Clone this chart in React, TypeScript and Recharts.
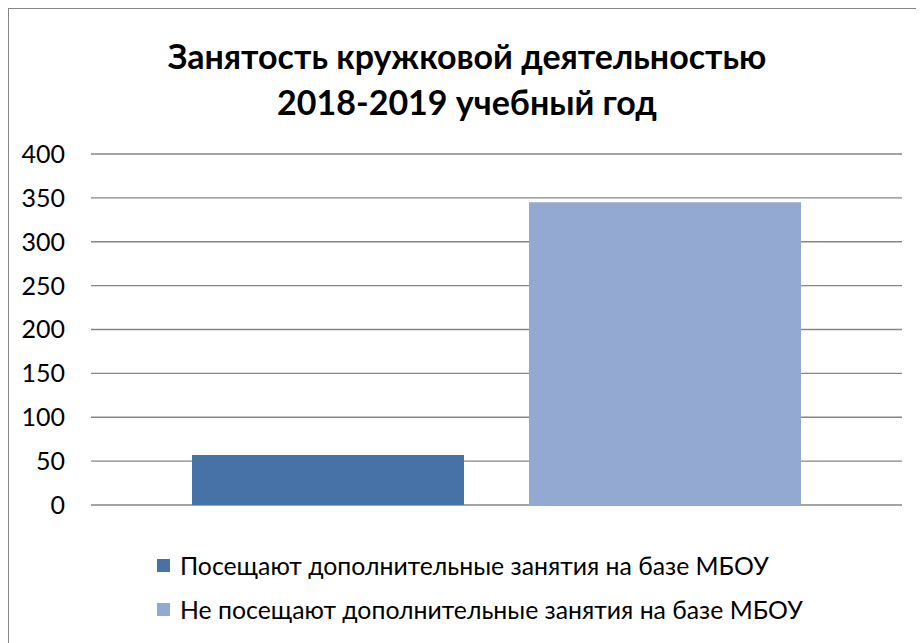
import { Bar, BarChart, CartesianGrid, XAxis, YAxis } from "recharts";

const categories = ["2018-2019"];
const seriesNames = [
  "Посещают дополнительные занятия на базе МБОУ",
  "Не посещают дополнительные занятия на базе МБОУ",
];
const seriesValues = [57, 345];
const seriesColors = ["#4672A8", "#94A9D1"];
const yTicks = [0, 50, 100, 150, 200, 250, 300, 350, 400];
const titleLines = ["Занятость кружковой деятельностью", "2018-2019 учебный год"];

const data = categories.map((c) => ({
  name: c,
  s0: seriesValues[0],
  s1: seriesValues[1],
}));

const font = "Lato, 'Open Sans', sans-serif";

export default function App() {
  return (
    <div
      style={{
        position: "relative",
        width: 915,
        height: 634,
        borderTop: "1px solid #868686",
        borderLeft: "1px solid #868686",
        fontFamily: font,
        background: "#fff",
        overflow: "hidden",
      }}
    >
      <div
        style={{
          position: "absolute",
          left: 0,
          top: 24,
          width: 916,
          textAlign: "center",
          fontWeight: 700,
          fontSize: 34,
          lineHeight: "46px",
          color: "#000",
        }}
      >
        {titleLines.map((t) => (
          <div key={t}>{t}</div>
        ))}
      </div>
      <div style={{ position: "absolute", left: 0, top: 0 }}>
        <BarChart
          width={907}
          height={530}
          data={data}
          margin={{ top: 145, right: 14, bottom: 34, left: 0 }}
          barCategoryGap={101}
          barGap={65}
        >
          <CartesianGrid vertical={false} stroke="#868686" strokeWidth={1.3} />
          <XAxis dataKey="name" hide />
          <YAxis
            width={82}
            domain={[0, 400]}
            ticks={yTicks}
            interval={0}
            axisLine={false}
            tickLine={false}
            tickSize={0}
            tickMargin={26}
            tick={{ fill: "#000", fontSize: 25, fontFamily: font }}
          />
          {seriesNames.map((n, i) => (
            <Bar
              key={n}
              dataKey={`s${i}`}
              name={n}
              fill={seriesColors[i]}
              isAnimationActive={false}
            />
          ))}
        </BarChart>
      </div>
      <div style={{ position: "absolute", left: 148, top: 534 }}>
        {seriesNames.map((n, i) => (
          <div
            key={n}
            style={{
              display: "flex",
              alignItems: "center",
              height: 44,
              fontSize: 24.8,
              color: "#000",
              whiteSpace: "nowrap",
            }}
          >
            <span
              style={{
                width: 13,
                height: 13,
                background: seriesColors[i],
                marginRight: 10,
                display: "inline-block",
              }}
            />
            {n}
          </div>
        ))}
      </div>
    </div>
  );
}
